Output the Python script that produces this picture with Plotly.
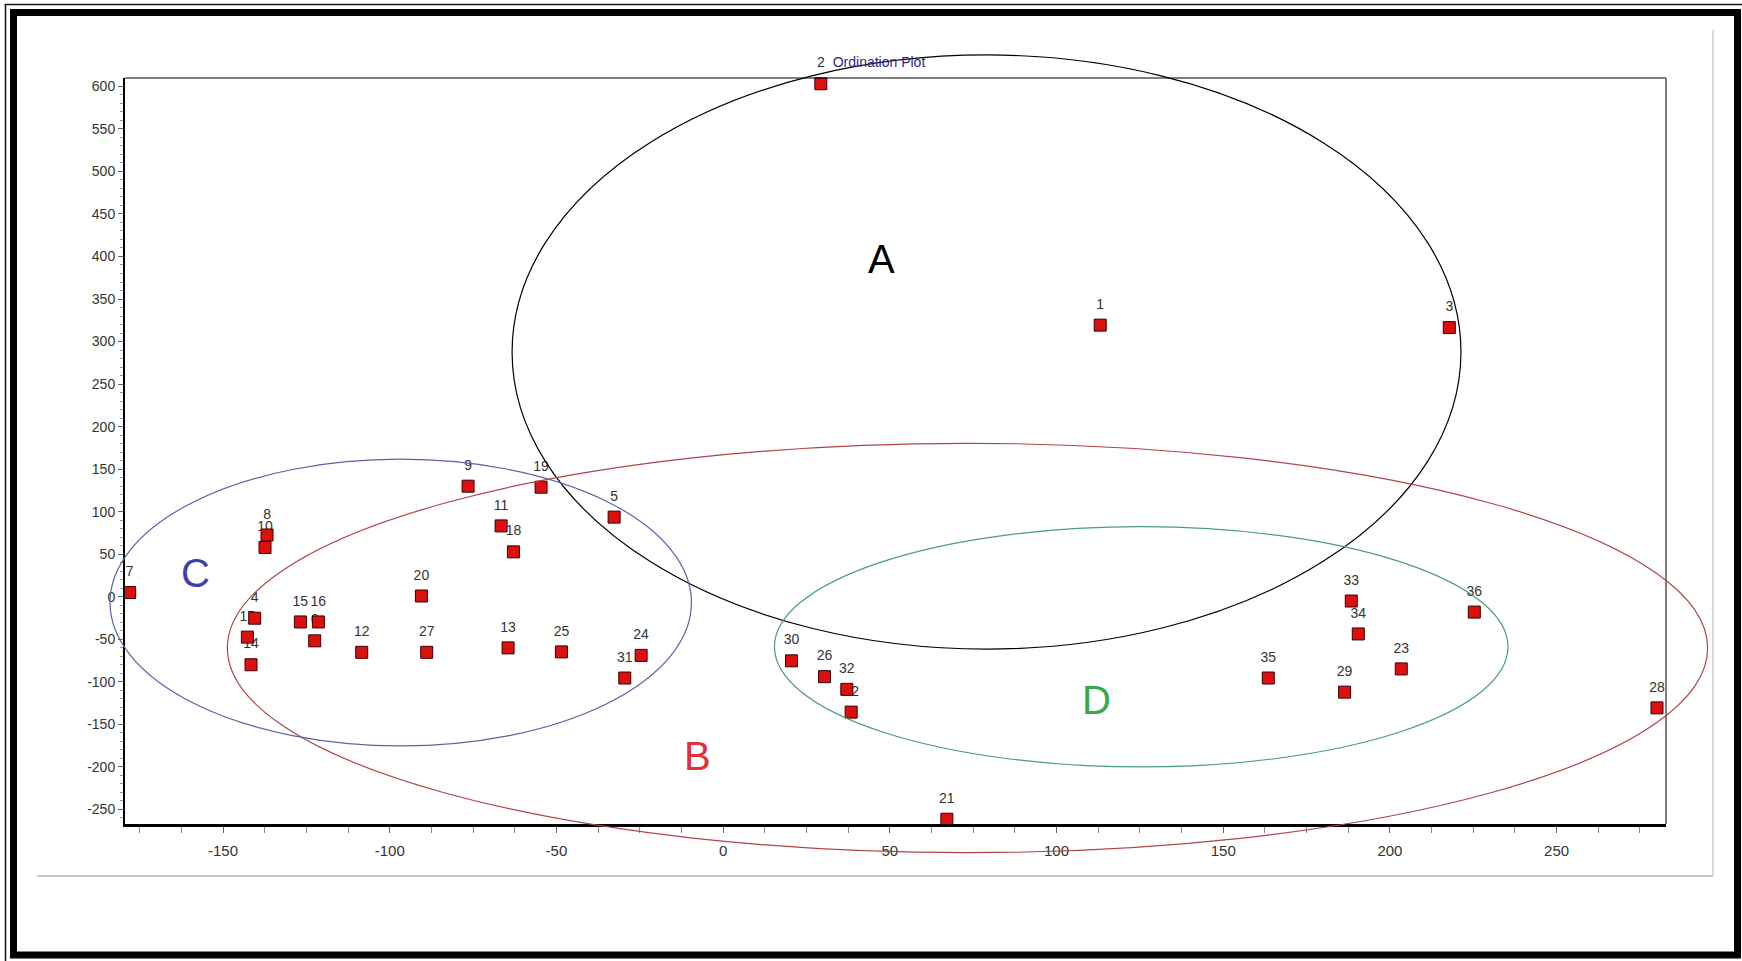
import plotly.graph_objects as go

# ---------------- data ----------------
POINT_LABELS = ["1", "2", "3", "4", "5", "6", "7", "8", "9", "10", "11", "12",
                "13", "14", "15", "16", "17", "18", "19", "20", "21", "22", "23", "24",
                "25", "26", "27", "28", "29", "30", "31", "32", "33", "34", "35", "36"]
X_VALUES = [113.1, 29.3, 217.8, -140.5, -32.7, -122.5, -178.0, -136.8, -76.5, -137.4,
            -66.6, -108.4, -64.5, -141.6, -126.8, -121.4, -142.7, -62.9, -54.6, -90.5,
            67.1, 38.4, 203.4, -24.6, -48.5, 30.4, -88.9, 280.1, 186.4, 20.5,
            -29.5, 37.1, 188.4, 190.5, 163.5, 225.3]
Y_VALUES = [319.3, 603.0, 316.4, -25.2, 93.6, -51.8, 5.0, 72.6, 130.0, 57.9,
            83.3, -65.3, -60.1, -79.9, -29.6, -29.6, -47.4, 52.8, 128.8, 0.9,
            -261.5, -135.6, -84.8, -68.9, -64.8, -93.9, -65.3, -130.6, -112.1, -75.3,
            -95.5, -108.8, -5.0, -43.7, -95.5, -18.0]

# cluster ellipses (data units)
GROUP_NAMES = ["A", "B", "C", "D"]
GROUP_CX = [79.0, 73.3, -96.7, 125.4]
GROUP_CY = [287.7, -60.2, -6.8, -58.8]
GROUP_RX = [142.3, 222.0, 87.2, 110.0]
GROUP_RY = [349.2, 240.6, 168.5, 141.2]
GROUP_LABEL_X = [47.5, -7.7, -158.2, 112.0]
GROUP_LABEL_Y = [397.4, -187.0, 28.4, -121.6]
GROUP_LINE_COLORS = ["#000000", "#b04448", "#5a62aa", "#4a9e78"]
GROUP_TEXT_COLORS = ["#000000", "#e0303a", "#4040aa", "#38a848"]

X_TICKS = [-150, -100, -50, 0, 50, 100, 150, 200, 250]
X_TICK_TEXT = ["-150", "-100", "-50", "0", "50", "100", "150", "200", "250"]
Y_TICKS = [-250, -200, -150, -100, -50, 0, 50, 100, 150, 200, 250, 300, 350, 400, 450, 500, 550, 600]
Y_TICK_TEXT = ["-250", "-200", "-150", "-100", "-50", "0", "50", "100", "150", "200",
               "250", "300", "350", "400", "450", "500", "550", "600"]

TITLE = "Ordination Plot"

# ---------------- geometry ----------------
W, H = 1742, 961
ML, MR, MT, MB = 125, 76, 78, 137
X_RANGE = [-179.4, 282.8]
Y_RANGE = [-267.1, 609.8]
PW = W - ML - MR
PH = H - MT - MB


def page_x(px):
    return (px - ML) / PW


def page_y(py):
    return (H - MB - py) / PH


def data_x(v):
    return (v - X_RANGE[0]) / (X_RANGE[1] - X_RANGE[0])


def data_y(v):
    return (v - Y_RANGE[0]) / (Y_RANGE[1] - Y_RANGE[0])


FONT = "Liberation Sans, Arial, sans-serif"
NARROW = "Liberation Sans Narrow, Arial Narrow, Liberation Sans, sans-serif"

fig = go.Figure()

# labels (drawn first so that markers sit on top of them)
fig.add_trace(go.Scatter(
    x=X_VALUES, y=Y_VALUES, mode="markers+text", text=POINT_LABELS,
    textposition="top center",
    textfont=dict(family=FONT, size=14, color="#333333"),
    marker=dict(size=19, color="rgba(0,0,0,0)", line=dict(width=0)),
    hoverinfo="skip", showlegend=False, cliponaxis=False,
))
# markers
fig.add_trace(go.Scatter(
    x=X_VALUES, y=Y_VALUES, mode="markers",
    marker=dict(symbol="square", size=12, color="#dd1010",
                line=dict(width=1, color="#3a0000")),
    text=POINT_LABELS, hovertemplate="%{text}: (%{x}, %{y})<extra></extra>",
    showlegend=False, cliponaxis=False,
))

shapes = []
# ellipses (not clipped to the plot area, as in the original)
for cx, cy, rx, ry, col in zip(GROUP_CX, GROUP_CY, GROUP_RX, GROUP_RY, GROUP_LINE_COLORS):
    shapes.append(dict(type="circle", xref="paper", yref="paper",
                       x0=data_x(cx - rx), x1=data_x(cx + rx),
                       y0=data_y(cy - ry), y1=data_y(cy + ry),
                       line=dict(color=col, width=1.2)))

# plot frame: top (black thin) and right (gray)
shapes.append(dict(type="line", xref="paper", yref="paper", x0=0, x1=1, y0=1, y1=1,
                   line=dict(color="#000000", width=1.2)))
shapes.append(dict(type="line", xref="paper", yref="paper", x0=1, x1=1, y0=0, y1=1,
                   line=dict(color="#555555", width=1.5)))

# light gray panel lines
shapes.append(dict(type="line", xref="paper", yref="paper",
                   x0=page_x(37), x1=page_x(1713), y0=page_y(876), y1=page_y(876),
                   line=dict(color="#b4b4b4", width=1.5)))
shapes.append(dict(type="line", xref="paper", yref="paper",
                   x0=page_x(1713), x1=page_x(1713), y0=page_y(30), y1=page_y(876),
                   line=dict(color="#c4c4c4", width=1.2)))

# outer picture frame
shapes.append(dict(type="rect", xref="paper", yref="paper",
                   x0=page_x(13.5), x1=page_x(1737.5), y0=page_y(955), y1=page_y(12.5),
                   line=dict(color="#000000", width=7)))
shapes.append(dict(type="line", xref="paper", yref="paper",
                   x0=page_x(5.5), x1=page_x(5.5), y0=page_y(4.5), y1=page_y(961),
                   line=dict(color="#111111", width=1.5)))
shapes.append(dict(type="line", xref="paper", yref="paper",
                   x0=page_x(4.5), x1=page_x(1742), y0=page_y(4.5), y1=page_y(4.5),
                   line=dict(color="#111111", width=1.5)))

annotations = []
for name, lx, ly, col in zip(GROUP_NAMES, GROUP_LABEL_X, GROUP_LABEL_Y, GROUP_TEXT_COLORS):
    annotations.append(dict(x=lx, y=ly, xref="x", yref="y", text=name, showarrow=False,
                            font=dict(family=FONT, size=40, color=col)))

fig.update_layout(
    width=W, height=H,
    margin=dict(l=ML, r=MR, t=MT, b=MB, autoexpand=False),
    paper_bgcolor="white", plot_bgcolor="white",
    title=dict(text=TITLE, xref="paper", x=page_x(879), xanchor="center",
               yref="container", y=1 - 62 / H, yanchor="middle",
               font=dict(family=NARROW, size=14, color="#2a2a86")),
    shapes=shapes,
    annotations=annotations,
    xaxis=dict(range=X_RANGE, showgrid=False, zeroline=False,
               showline=True, linecolor="#000000", linewidth=3,
               ticks="outside", ticklen=6, tickwidth=1, tickcolor="#666666",
               tickmode="array", tickvals=X_TICKS, ticktext=X_TICK_TEXT,
               ticklabelstandoff=5,
               minor=dict(dtick=12.5, tick0=0, ticks="outside", ticklen=6,
                          tickwidth=1, tickcolor="#888888", showgrid=False),
               tickfont=dict(family=NARROW, size=15, color="#333333")),
    yaxis=dict(range=Y_RANGE, showgrid=False, zeroline=False,
               showline=True, linecolor="#000000", linewidth=2,
               ticks="outside", ticklen=5, tickwidth=1, tickcolor="#666666",
               tickmode="array", tickvals=Y_TICKS, ticktext=Y_TICK_TEXT,
               minor=dict(dtick=10, tick0=0, ticks="outside", ticklen=3,
                          tickwidth=1, tickcolor="#999999", showgrid=False),
               tickfont=dict(family=FONT, size=14, color="#333333")),
)

fig.write_html(
    "out.html",
    config=dict(displayModeBar=False),
    post_script="document.body.style.margin='0';document.body.style.overflow='hidden';",
)
